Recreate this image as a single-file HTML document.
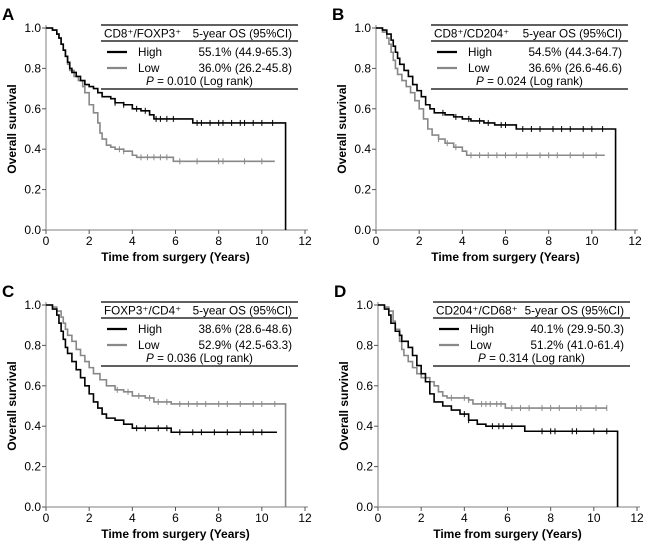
<!DOCTYPE html>
<html><head><meta charset="utf-8"><style>
body{margin:0;background:#fff;}
svg{display:block;font-family:"Liberation Sans",Arial,sans-serif;}
</style></head><body>
<svg id="c" width="650" height="541" xmlns="http://www.w3.org/2000/svg"></svg>
<script>
// Kaplan-Meier step points [time, survival]
const aHigh=[[0,1],[0.3,0.99],[0.5,0.97],[0.6,0.95],[0.7,0.92],[0.8,0.89],[0.9,0.86],[1.0,0.83],[1.1,0.8],[1.2,0.78],[1.4,0.76],[1.6,0.74],[1.8,0.72],[2.0,0.71],[2.2,0.70],[2.4,0.68],[2.6,0.66],[3.0,0.65],[3.2,0.63],[3.6,0.62],[4.0,0.60],[4.4,0.59],[4.8,0.57],[5.0,0.55],[6.8,0.53],[11.1,0.53]];
const aLow=[[0,1],[0.3,0.99],[0.5,0.97],[0.6,0.95],[0.7,0.92],[0.8,0.89],[0.9,0.86],[1.0,0.82],[1.1,0.79],[1.3,0.76],[1.5,0.74],[1.7,0.71],[1.8,0.68],[2.0,0.62],[2.2,0.58],[2.4,0.53],[2.5,0.48],[2.6,0.45],[2.8,0.42],[3.0,0.41],[3.2,0.40],[3.6,0.39],[4.0,0.37],[4.2,0.36],[5.9,0.34],[10.6,0.34]];
const bHigh=[[0,1],[0.3,0.99],[0.5,0.97],[0.7,0.94],[0.8,0.91],[0.9,0.88],[1.0,0.85],[1.1,0.82],[1.3,0.79],[1.5,0.76],[1.7,0.72],[1.9,0.69],[2.1,0.66],[2.3,0.62],[2.5,0.60],[2.7,0.58],[3.0,0.58],[3.2,0.57],[3.6,0.56],[4.0,0.55],[4.4,0.54],[5.0,0.53],[5.5,0.52],[6.5,0.50],[11.1,0.50]];
const bLow=[[0,1],[0.3,0.98],[0.5,0.95],[0.6,0.92],[0.7,0.88],[0.8,0.84],[0.9,0.80],[1.0,0.77],[1.2,0.74],[1.4,0.71],[1.6,0.68],[1.8,0.64],[2.0,0.60],[2.2,0.55],[2.4,0.50],[2.6,0.47],[2.9,0.45],[3.2,0.43],[3.6,0.41],[4.0,0.39],[4.2,0.37],[10.6,0.37]];
const cHigh=[[0,1],[0.3,0.98],[0.5,0.95],[0.6,0.91],[0.7,0.87],[0.8,0.83],[0.9,0.79],[1.0,0.76],[1.2,0.72],[1.4,0.68],[1.6,0.64],[1.8,0.60],[2.0,0.56],[2.2,0.52],[2.4,0.49],[2.6,0.46],[2.8,0.44],[3.2,0.43],[3.6,0.41],[4.0,0.39],[5.0,0.39],[5.8,0.37],[10.7,0.37]];
const cLow=[[0,1],[0.3,0.99],[0.5,0.97],[0.7,0.94],[0.8,0.91],[0.9,0.88],[1.0,0.85],[1.2,0.82],[1.4,0.78],[1.6,0.75],[1.8,0.72],[2.0,0.69],[2.2,0.66],[2.5,0.63],[2.8,0.60],[3.2,0.58],[3.6,0.57],[4.0,0.55],[4.6,0.54],[5.0,0.52],[5.8,0.51],[11.1,0.51]];
const dHigh=[[0,1],[0.3,0.98],[0.5,0.95],[0.6,0.91],[0.8,0.87],[1.0,0.85],[1.1,0.82],[1.4,0.79],[1.6,0.75],[1.8,0.70],[2.0,0.66],[2.2,0.62],[2.4,0.56],[2.6,0.52],[3.0,0.50],[3.4,0.48],[3.8,0.46],[4.2,0.43],[4.6,0.41],[5.0,0.40],[6.8,0.375],[11.1,0.375]];
const dLow=[[0,1],[0.3,0.99],[0.5,0.97],[0.7,0.92],[0.8,0.88],[1.0,0.82],[1.1,0.78],[1.2,0.75],[1.4,0.72],[1.6,0.69],[1.8,0.66],[2.0,0.64],[2.4,0.62],[2.6,0.60],[2.8,0.57],[3.0,0.55],[3.2,0.54],[4.2,0.53],[4.4,0.51],[5.9,0.49],[10.6,0.49]];
// censor mark times
const aHighCens=[3.2,3.6,4.2,4.6,5.1,5.3,5.6,5.9,7.0,7.2,7.6,8.0,8.2,8.6,9.0,9.2,9.6,10.0,10.5];
const aLowCens=[3.4,3.6,4.4,4.7,5.0,5.3,5.6,6.2,7.0,8.0,8.2,9.2,10.0];
const bHighCens=[3.1,3.7,4.3,4.8,5.2,5.8,6.0,6.8,7.2,7.6,8.2,8.6,9.0,9.6,10.0,10.5];
const bLowCens=[2.9,3.3,3.7,4.4,4.8,5.2,5.6,6.0,6.5,7.0,7.6,8.0,8.4,9.0,9.6,10.2];
const cHighCens=[4.2,4.6,5.2,5.6,6.2,6.8,7.2,7.8,8.4,9.0,9.6,10.0];
const cLowCens=[3.3,3.8,4.3,4.8,5.2,5.6,6.2,6.6,7.0,7.4,8.0,8.4,9.0,9.6,10.0,10.6];
const dHighCens=[4.0,4.2,5.3,5.6,5.8,6.2,7.6,8.0,8.2,9.0,9.2,10.0,10.6];
const dLowCens=[3.4,4.0,4.2,4.8,5.0,5.2,5.5,5.7,6.2,6.6,7.0,7.6,8.0,8.4,9.2,9.4,10.1,10.6];
const xTicks=[0,2,4,6,8,10,12];
const yTicks=[0,0.2,0.4,0.6,0.8,1.0];
const panels=[
 {id:"a",L:"A",ox:46,oy:28,hi:aHigh,lo:aLow,hc:aHighCens,lc:aLowCens,hiDrop:true,loDrop:false,title:"CD8⁺/FOXP3⁺",hv:"55.1% (44.9-65.3)",lv:"36.0% (26.2-45.8)",p:"0.010"},
 {id:"b",L:"B",ox:376,oy:28,hi:bHigh,lo:bLow,hc:bHighCens,lc:bLowCens,hiDrop:true,loDrop:false,title:"CD8⁺/CD204⁺",hv:"54.5% (44.3-64.7)",lv:"36.6% (26.6-46.6)",p:"0.024"},
 {id:"c",L:"C",ox:46,oy:305,hi:cHigh,lo:cLow,hc:cHighCens,lc:cLowCens,hiDrop:false,loDrop:true,title:"FOXP3⁺/CD4⁺",hv:"38.6% (28.6-48.6)",lv:"52.9% (42.5-63.3)",p:"0.036"},
 {id:"d",L:"D",ox:378,oy:305,hi:dHigh,lo:dLow,hc:dHighCens,lc:dLowCens,hiDrop:true,loDrop:false,title:"CD204⁺/CD68⁺",hv:"40.1% (29.9-50.3)",lv:"51.2% (41.0-61.4)",p:"0.314"}
];
const NS="http://www.w3.org/2000/svg";
const svg=document.getElementById('c');
function mk(t,a,parent,txt){const e=document.createElementNS(NS,t);for(const k in a)e.setAttribute(k,a[k]);if(txt!=null)e.textContent=txt;(parent||svg).appendChild(e);return e;}
const W=259,H=202;
function stepVal(pts,t){let v=pts[0][1];for(const p of pts){if(p[0]<=t)v=p[1];}return v;}
panels.forEach(P=>{
 const g=mk('g',{});
 
 
 const X=t=>P.ox+t/12*W, Y=s=>P.oy+H-s*H;
 const lt=mk('text',{x:P.ox-44,y:P.oy-8,'font-size':17,'font-weight':'bold'},g,P.L);
 
 const ax=mk('path',{d:`M${P.ox},${P.oy-3}V${P.oy+H}H${P.ox+W+3}`,stroke:'#aaa','stroke-width':1.5,fill:'none'},g);
 
 xTicks.forEach(t=>{
  mk('line',{x1:X(t),x2:X(t),y1:P.oy+H,y2:P.oy+H+4,stroke:'#555'},g);
  const tx=mk('text',{x:X(t),y:P.oy+H+15,'font-size':12,'text-anchor':'middle'},g,t);
  
 });
 yTicks.forEach(v=>{
  mk('line',{x1:P.ox-4,x2:P.ox,y1:Y(v),y2:Y(v),stroke:'#555'},g);
  const ty=mk('text',{x:P.ox-5,y:Y(v)+4,'font-size':12,'text-anchor':'end'},g,v.toFixed(1));
  
 });
 const xt=mk('text',{x:P.ox+W/2,y:P.oy+H+31,'font-size':12,'font-weight':'bold','text-anchor':'middle'},g,'Time from surgery (Years)');
 
 const yt=mk('text',{transform:`translate(${P.ox-30},${P.oy+H/2}) rotate(-90)`,'font-size':12,'font-weight':'bold','text-anchor':'middle'},g,'Overall survival');
 
 [[P.lo,P.lc,'#888',P.loDrop,'low'],[P.hi,P.hc,'#000',P.hiDrop,'high']].forEach(([pts,cens,col,drop,nm])=>{
  let d=`M${X(pts[0][0])},${Y(pts[0][1])}`;
  for(let i=1;i<pts.length;i++){d+=`H${X(pts[i][0])}V${Y(pts[i][1])}`;}
  if(drop)d+=`V${Y(0)}`;
  const c=mk('path',{d,stroke:col,'stroke-width':1.6,fill:'none'},g);
  
  cens.forEach(t=>{const v=stepVal(pts,t);
   const m=mk('line',{x1:X(t),x2:X(t),y1:Y(v)-3,y2:Y(v)+3,stroke:col,'stroke-width':1},g);
   });
 });
 const lx=P.ox+55, rx=P.ox+252, ly=P.oy-3;
 const lg=mk('g',{},g);
 mk('rect',{x:lx,y:ly,width:rx-lx,height:64,fill:'#fff'},lg);
 mk('line',{x1:lx,x2:rx,y1:ly,y2:ly,stroke:'#000','stroke-width':1.3},lg);
 mk('line',{x1:lx,x2:rx,y1:ly+16,y2:ly+16,stroke:'#000','stroke-width':1.3},lg);
 mk('line',{x1:lx,x2:rx,y1:ly+64,y2:ly+64,stroke:'#000','stroke-width':1.3},lg);
 mk('text',{x:lx+3,y:ly+12.5,'font-size':11.7},lg,P.title);
 mk('text',{x:rx-6,y:ly+12.5,'font-size':11.7,'text-anchor':'end'},lg,'5-year OS (95%CI)');
 mk('line',{x1:lx+6,x2:lx+26,y1:ly+27,y2:ly+27,stroke:'#000','stroke-width':2.2},lg);
 mk('text',{x:lx+37,y:ly+31,'font-size':11.7},lg,'High');
 mk('text',{x:rx-6,y:ly+31,'font-size':11.7,'text-anchor':'end'},lg,P.hv);
 mk('line',{x1:lx+6,x2:lx+26,y1:ly+43,y2:ly+43,stroke:'#888','stroke-width':2.2},lg);
 mk('text',{x:lx+37,y:ly+47,'font-size':11.7},lg,'Low');
 mk('text',{x:rx-6,y:ly+47,'font-size':11.7,'text-anchor':'end'},lg,P.lv);
 const pt=mk('text',{x:(lx+rx)/2,y:ly+60,'font-size':11.7,'text-anchor':'middle'},lg);
 mk('tspan',{'font-style':'italic'},pt,'P');
 mk('tspan',{},pt,' = '+P.p+' (Log rank)');
});
</script>
</body></html>
